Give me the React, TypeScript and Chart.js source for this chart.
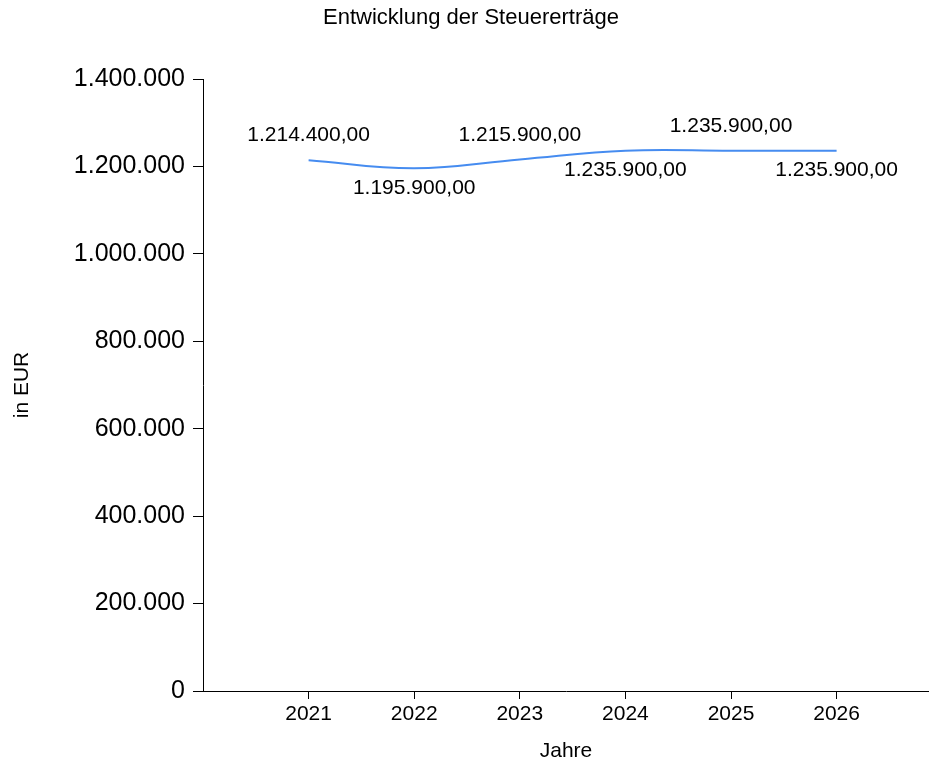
import React, { useEffect, useRef } from "react";
import { Chart, registerables } from "chart.js";

Chart.register(...registerables);

const TITLE = "Entwicklung der Steuererträge";
const X_TITLE = "Jahre";
const Y_TITLE = "in EUR";
const YEARS: number[] = [2021, 2022, 2023, 2024, 2025, 2026];
const VALUES: number[] = [1214400, 1195900, 1215900, 1235900, 1235900, 1235900];
const Y_MIN = 0;
const Y_MAX = 1400000;
const Y_STEP = 200000;
const X_MIN = 2020;
const X_MAX = 2026.875;

const FONT = "'Liberation Sans', Arial, sans-serif";

function groupThousands(n: number): string {
  const s = Math.round(Math.abs(n)).toString();
  return (n < 0 ? "-" : "") + s.replace(/\B(?=(\d{3})+(?!\d))/g, ".");
}

function formatEuro(n: number): string {
  const cents = Math.round(Math.abs(n) * 100) % 100;
  return groupThousands(Math.trunc(n)) + "," + (cents < 10 ? "0" : "") + cents;
}

const dataLabelPlugin = {
  id: "dataLabels",
  afterDatasetsDraw(chart: any) {
    const { ctx } = chart;
    const meta = chart.getDatasetMeta(0);
    const ds = chart.data.datasets[0];
    ctx.save();
    ctx.font = `21px ${FONT}`;
    ctx.fillStyle = "#000";
    ctx.textAlign = "center";
    ctx.textBaseline = "middle";
    meta.data.forEach((el: any, i: number) => {
      const v = ds.data[i].y;
      const above = i % 2 === 0;
      const y = above ? el.y - 24.5 : el.y + 19.5;
      ctx.fillText(formatEuro(v), el.x, y);
    });
    ctx.restore();
  },
};

export default function App() {
  const ref = useRef<HTMLCanvasElement | null>(null);

  useEffect(() => {
    if (!ref.current) return;
    const chart = new Chart(ref.current, {
      type: "line",
      data: {
        datasets: [
          {
            data: YEARS.map((y, i) => ({ x: y, y: VALUES[i] })),
            borderColor: "rgb(70,140,240)",
            borderWidth: 2,
            pointRadius: 0,
            pointHoverRadius: 0,
            tension: 0.4,
            fill: false,
          },
        ],
      },
      options: {
        responsive: false,
        animation: false,
        events: [],
        layout: { padding: { left: 13, top: 0, right: 0, bottom: 0 } },
        plugins: {
          legend: { display: false },
          tooltip: { enabled: false },
          title: {
            display: true,
            text: TITLE,
            color: "#000",
            font: { family: FONT, size: 22, weight: "normal" as any },
            padding: { top: 4.3, bottom: 48.3 },
          },
        },
        scales: {
          x: {
            type: "linear",
            min: X_MIN,
            max: X_MAX,
            afterBuildTicks: (scale: any) => {
              scale.ticks = YEARS.map((v) => ({ value: v }));
            },
            afterFit: (scale: any) => {
              scale.height = 76;
            },
            ticks: {
              color: "#000",
              font: { family: FONT, size: 21 },
              padding: 3,
              maxRotation: 0,
              autoSkip: false,
              callback: (v: any) => String(v),
            },
            grid: {
              drawOnChartArea: false,
              drawTicks: true,
              tickLength: 8,
              color: "#000",
              lineWidth: 1,
            },
            border: { display: true, color: "#000", width: 1 },
            title: {
              display: true,
              text: X_TITLE,
              color: "#000",
              font: { family: FONT, size: 21 },
              padding: { top: 0, bottom: 3 },
            },
          },
          y: {
            type: "linear",
            min: Y_MIN,
            max: Y_MAX,
            afterFit: (scale: any) => {
              scale.width = 190;
            },
            ticks: {
              stepSize: Y_STEP,
              color: "#000",
              font: { family: FONT, size: 25 },
              padding: 8,
              callback: (v: any) => groupThousands(Number(v)),
            },
            grid: {
              drawOnChartArea: false,
              drawTicks: true,
              tickLength: 10,
              color: "#000",
              lineWidth: 1,
            },
            border: { display: true, color: "#000", width: 1 },
            title: {
              display: true,
              text: Y_TITLE,
              color: "#000",
              font: { family: FONT, size: 21, lineHeight: 1 },
              padding: { top: -1.5, bottom: 0 },
            },
          },
        },
      },
      plugins: [dataLabelPlugin],
    });
    return () => chart.destroy();
  }, []);

  return (
    <div style={{ position: "fixed", left: 0, top: 0, width: 929, height: 767, background: "#fff" }}>
      <canvas ref={ref} width={929} height={767} style={{ display: "block" }} />
    </div>
  );
}
